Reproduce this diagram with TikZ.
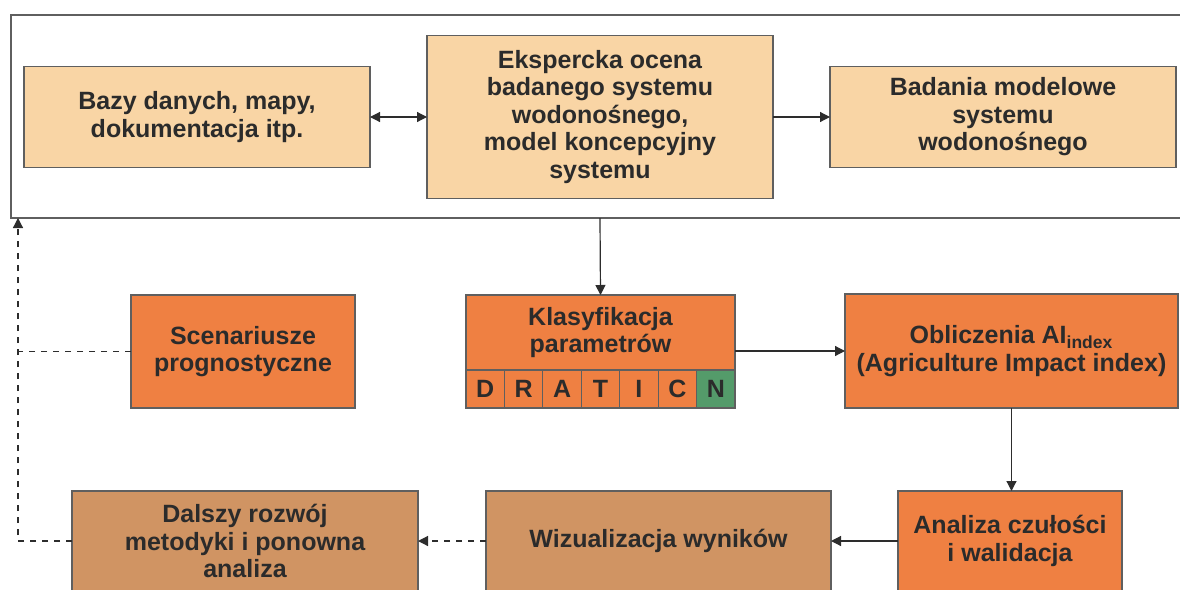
\documentclass[tikz,border=0pt]{standalone}
\usepackage{fontspec}
\setmainfont{Liberation Sans}
\usetikzlibrary{
  arrows.meta,
  positioning
}
\definecolor{peachcolor}{RGB}{249, 213, 165}
\definecolor{orangecolor}{RGB}{239, 128, 66}
\definecolor{browncolor}{RGB}{208, 148, 99}
\definecolor{greencolor}{RGB}{84, 155, 106}
\definecolor{bordercolor}{RGB}{95, 95, 95}
\definecolor{labelcolor}{RGB}{43, 43, 43}
\definecolor{arrowcolor}{RGB}{45, 45, 45}
\tikzset{
blocktext/.style={
  align=center,
  font=\bfseries\fontsize{12.5}{13.75}\selectfont,
  text=labelcolor
},
basebox/.style={
  draw=bordercolor,
  line width=0.6pt,
  inner sep=2pt,
  outer sep=0pt,
  blocktext
},
inputblock/.style={
  basebox,
  fill=peachcolor,
  minimum width=173pt,
  minimum height=50.5pt
},
methodblock/.style={
  basebox,
  fill=orangecolor
},
resultblock/.style={
  basebox,
  fill=browncolor,
  minimum width=173pt,
  minimum height=50pt
},
cellbox/.style={
  basebox,
  minimum width=19.21pt,
  minimum height=19pt,
  inner sep=0pt
},
frame/.style={
  draw=bordercolor,
  line width=0.6pt,
  outer sep=0pt,
  inner sep=0pt
},
arrow/.style={
  -{Triangle[length=5pt,width=5pt]},
  line width=0.6pt,
  draw=arrowcolor
},
doublearrow/.style={
  arrow,
  {Triangle[length=5pt,width=5pt]}-{Triangle[length=5pt,width=5pt]}
},
dashedline/.style={
  line width=0.6pt,
  draw=arrowcolor,
  dash pattern=on 3pt off 3pt
},
dashedarrow/.style={
  arrow,
  dash pattern=on 3pt off 3pt
}
}

\begin{document}
\begin{tikzpicture}[x=0.5pt, y=-0.5pt]
  \useasboundingbox (0,0) rectangle (1180,590);
  \clip (0,0) rectangle (1180,590);

  % gorna ramka
  \node[frame, minimum width=594.5pt, minimum height=101.5pt] (ramka) at (605.5,116.5) {};
  \coordinate (powrot) at ([xshift=3.5pt]ramka.south west);

  \node[inputblock] (bazy) at (197,117) {Bazy danych, mapy,\\dokumentacja itp.};
  \node[inputblock, minimum height=81.5pt] (ekspert) at (600,117)
    {Ekspercka ocena\\badanego systemu\\wodonośnego,\\model koncepcyjny\\systemu};
  \node[inputblock] (badania) at (1003,117) {Badania modelowe\\systemu\\wodonośnego};

  % klasyfikacja + DRATICN
  \node[methodblock, minimum width=134.5pt, minimum height=37.5pt] (klas) at (600.5,332.5)
    {Klasyfikacja\\parametrów};
  \foreach \l/\c [count=\i] in {D/orangecolor, R/orangecolor, A/orangecolor, T/orangecolor,
                                 I/orangecolor, C/orangecolor, N/greencolor}
    \node[cellbox, fill=\c, anchor=north west] (cell\i)
      at ([xshift={(\i-1)*19.214pt}]klas.south west) {\l};

  \node[methodblock, minimum width=112pt, minimum height=56.5pt] (scen) at (243,351.5)
    {Scenariusze\\prognostyczne};
  \node[methodblock, minimum width=166.5pt, minimum height=57pt] (oblicz) at (1011.5,351)
    {Obliczenia AI\textsubscript{index}\\(Agriculture Impact index)};
  \node[methodblock, minimum width=112pt, minimum height=50pt] (analiza) at (1010,541)
    {Analiza czułości\\i walidacja};

  \node[resultblock, minimum width=172.5pt] (wizual) at (658.5,541) {Wizualizacja wyników};
  \node[resultblock] (dalszy) at (245,541) {Dalszy rozwój\\metodyki i ponowna\\analiza};

  % polaczenia
  \draw[doublearrow] (bazy.east) -- (ekspert.west);
  \draw[arrow] (ekspert.east) -- (badania.west);
  \draw[arrow] (ekspert.south |- ramka.south) -- (klas.north);
  \draw[arrow] (klas.east |- oblicz.west) -- (oblicz.west);
  \draw[arrow] (oblicz.south) -- (oblicz.south |- analiza.north);
  \draw[arrow] (analiza.west) -- (wizual.east);
  \draw[dashedarrow] (wizual.west) -- (dalszy.east);
  \draw[dashedarrow] (dalszy.west) -| (powrot);
  \draw[dashedline] (scen.west) -- (scen.west -| powrot);
\end{tikzpicture}
\end{document}
